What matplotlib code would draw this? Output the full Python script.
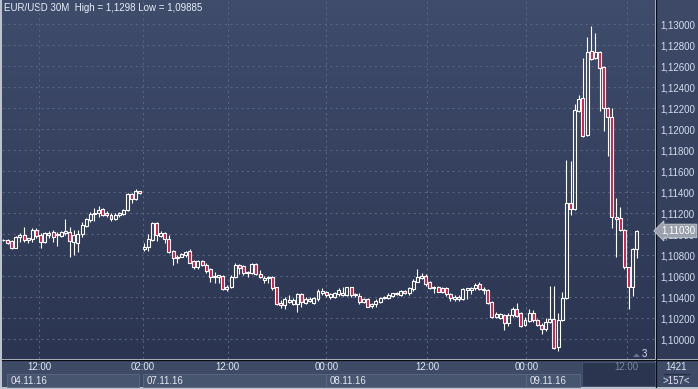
import matplotlib
matplotlib.use('Agg')
import matplotlib.pyplot as plt
import numpy as np
from matplotlib.colors import LinearSegmentedColormap
from matplotlib.transforms import blended_transform_factory, offset_copy
from matplotlib.patches import Rectangle, Polygon

plt.rcParams['font.family'] = ['Liberation Sans', 'DejaVu Sans']

# ---------------- data (EUR/USD, 30 min candles) ----------------
opens = [1.10945, 1.10943, 1.10933, 1.10869, 1.10968, 1.10990, 1.10943, 1.10949, 1.11038, 1.10990,
         1.10927, 1.10990, 1.11022, 1.10990, 1.10981, 1.11006, 1.11022, 1.10927, 1.10917, 1.10997,
         1.11079, 1.11133, 1.11187, 1.11197, 1.11235, 1.11203, 1.11184, 1.11143, 1.11184, 1.11190,
         1.11228, 1.11381, 1.11330, 1.11409, 1.10857, 1.10873, 1.10943, 1.11102, 1.10981, 1.11007,
         1.10950, 1.10842, 1.10769, 1.10785, 1.10800, 1.10842, 1.10746, 1.10683, 1.10746, 1.10705,
         1.10664, 1.10588, 1.10594, 1.10600, 1.10473, 1.10492, 1.10588, 1.10705, 1.10696, 1.10626,
         1.10626, 1.10715, 1.10619, 1.10562, 1.10578, 1.10594, 1.10492, 1.10346, 1.10324, 1.10356,
         1.10334, 1.10334, 1.10426, 1.10346, 1.10365, 1.10346, 1.10378, 1.10442, 1.10448, 1.10397,
         1.10403, 1.10426, 1.10419, 1.10419, 1.10492, 1.10416, 1.10410, 1.10356, 1.10378, 1.10315,
         1.10330, 1.10356, 1.10388, 1.10394, 1.10413, 1.10426, 1.10419, 1.10457, 1.10435, 1.10473,
         1.10546, 1.10578, 1.10603, 1.10546, 1.10483, 1.10498, 1.10489, 1.10489, 1.10425, 1.10378,
         1.10381, 1.10381, 1.10467, 1.10467, 1.10483, 1.10521, 1.10467, 1.10467, 1.10356, 1.10213,
         1.10203, 1.10229, 1.10149, 1.10229, 1.10286, 1.10244, 1.10133, 1.10171, 1.10250, 1.10181,
         1.10133, 1.10092, 1.10165, 1.10187, 1.09920, 1.10181, 1.10387, 1.11298, 1.11235, 1.12174,
         1.12292, 1.11943, 1.12746, 1.12673, 1.12736, 1.12587, 1.12197, 1.12111, 1.11158, 1.11149,
         1.11038, 1.10682, 1.10498, 1.10854]
highs = [1.10952, 1.10952, 1.10943, 1.10981, 1.11006, 1.11063, 1.10959, 1.11054, 1.11054, 1.11006,
         1.11022, 1.11032, 1.11038, 1.11022, 1.11032, 1.11139, 1.11070, 1.11038, 1.11038, 1.11117,
         1.11149, 1.11212, 1.11244, 1.11266, 1.11244, 1.11222, 1.11203, 1.11197, 1.11206, 1.11235,
         1.11387, 1.11387, 1.11431, 1.11412, 1.10911, 1.11000, 1.11118, 1.11118, 1.11032, 1.11023,
         1.10991, 1.10848, 1.10800, 1.10816, 1.10842, 1.10854, 1.10753, 1.10753, 1.10753, 1.10721,
         1.10673, 1.10642, 1.10610, 1.10610, 1.10515, 1.10607, 1.10721, 1.10715, 1.10705, 1.10651,
         1.10721, 1.10721, 1.10657, 1.10600, 1.10603, 1.10603, 1.10499, 1.10372, 1.10403, 1.10419,
         1.10388, 1.10435, 1.10435, 1.10403, 1.10403, 1.10403, 1.10473, 1.10483, 1.10461, 1.10435,
         1.10451, 1.10483, 1.10499, 1.10499, 1.10499, 1.10442, 1.10435, 1.10388, 1.10388, 1.10346,
         1.10378, 1.10403, 1.10413, 1.10435, 1.10442, 1.10451, 1.10467, 1.10467, 1.10499, 1.10569,
         1.10667, 1.10625, 1.10616, 1.10552, 1.10505, 1.10508, 1.10498, 1.10495, 1.10435, 1.10419,
         1.10419, 1.10483, 1.10489, 1.10498, 1.10530, 1.10540, 1.10498, 1.10476, 1.10362, 1.10260,
         1.10244, 1.10235, 1.10244, 1.10308, 1.10340, 1.10254, 1.10206, 1.10282, 1.10276, 1.10190,
         1.10149, 1.10196, 1.10504, 1.10504, 1.10244, 1.10451, 1.11705, 1.11698, 1.12238, 1.12324,
         1.12673, 1.12879, 1.12980, 1.12911, 1.12746, 1.12600, 1.12206, 1.12197, 1.11339, 1.11254,
         1.11044, 1.10689, 1.10863, 1.11038]
lows = [1.10938, 1.10904, 1.10860, 1.10863, 1.10927, 1.10927, 1.10911, 1.10927, 1.10959, 1.10863,
        1.10911, 1.10959, 1.10927, 1.10889, 1.10968, 1.10990, 1.10784, 1.10800, 1.10831, 1.10974,
        1.11063, 1.11117, 1.11124, 1.11165, 1.11171, 1.11165, 1.11124, 1.11133, 1.11165, 1.11181,
        1.11222, 1.11298, 1.11324, 1.11384, 1.10842, 1.10842, 1.10937, 1.10937, 1.10975, 1.10911,
        1.10823, 1.10705, 1.10727, 1.10778, 1.10785, 1.10721, 1.10667, 1.10667, 1.10696, 1.10632,
        1.10546, 1.10537, 1.10530, 1.10467, 1.10461, 1.10483, 1.10578, 1.10619, 1.10610, 1.10588,
        1.10619, 1.10610, 1.10578, 1.10537, 1.10537, 1.10467, 1.10324, 1.10292, 1.10283, 1.10340,
        1.10324, 1.10261, 1.10308, 1.10334, 1.10356, 1.10334, 1.10365, 1.10419, 1.10403, 1.10378,
        1.10388, 1.10410, 1.10413, 1.10410, 1.10403, 1.10403, 1.10334, 1.10340, 1.10302, 1.10292,
        1.10302, 1.10346, 1.10378, 1.10384, 1.10403, 1.10416, 1.10410, 1.10426, 1.10419, 1.10461,
        1.10540, 1.10571, 1.10508, 1.10473, 1.10435, 1.10444, 1.10435, 1.10413, 1.10362, 1.10365,
        1.10362, 1.10371, 1.10378, 1.10425, 1.10470, 1.10463, 1.10425, 1.10330, 1.10197, 1.10197,
        1.10190, 1.10086, 1.10127, 1.10213, 1.10213, 1.10117, 1.10123, 1.10165, 1.10165, 1.10123,
        1.10047, 1.10079, 1.10155, 1.09901, 1.09885, 1.10171, 1.10380, 1.11181, 1.11228, 1.12165,
        1.11920, 1.11933, 1.12657, 1.12663, 1.12174, 1.11984, 1.11743, 1.11054, 1.10784, 1.11031,
        1.10663, 1.10282, 1.10409, 1.10768]
closes = [1.10943, 1.10917, 1.10869, 1.10968, 1.10990, 1.10943, 1.10959, 1.11038, 1.10981, 1.10927,
          1.11006, 1.11013, 1.10974, 1.11000, 1.11022, 1.11032, 1.10933, 1.10990, 1.10997, 1.11085,
          1.11143, 1.11190, 1.11203, 1.11228, 1.11184, 1.11178, 1.11143, 1.11184, 1.11197, 1.11228,
          1.11381, 1.11330, 1.11412, 1.11387, 1.10880, 1.10950, 1.11102, 1.10988, 1.11007, 1.10950,
          1.10832, 1.10769, 1.10785, 1.10807, 1.10832, 1.10727, 1.10683, 1.10746, 1.10705, 1.10648,
          1.10588, 1.10604, 1.10607, 1.10473, 1.10499, 1.10594, 1.10705, 1.10680, 1.10626, 1.10642,
          1.10715, 1.10619, 1.10594, 1.10584, 1.10594, 1.10483, 1.10330, 1.10324, 1.10378, 1.10372,
          1.10372, 1.10426, 1.10356, 1.10378, 1.10378, 1.10388, 1.10457, 1.10461, 1.10416, 1.10426,
          1.10442, 1.10467, 1.10435, 1.10492, 1.10419, 1.10429, 1.10350, 1.10378, 1.10308, 1.10330,
          1.10362, 1.10388, 1.10403, 1.10419, 1.10435, 1.10442, 1.10457, 1.10435, 1.10489, 1.10556,
          1.10594, 1.10603, 1.10521, 1.10483, 1.10498, 1.10451, 1.10451, 1.10425, 1.10387, 1.10397,
          1.10403, 1.10476, 1.10483, 1.10489, 1.10514, 1.10476, 1.10476, 1.10340, 1.10213, 1.10235,
          1.10235, 1.10149, 1.10229, 1.10286, 1.10222, 1.10127, 1.10181, 1.10250, 1.10181, 1.10133,
          1.10092, 1.10158, 1.10187, 1.09911, 1.10181, 1.10387, 1.11292, 1.11235, 1.12181, 1.12282,
          1.11933, 1.12736, 1.12663, 1.12736, 1.12578, 1.12197, 1.12111, 1.11158, 1.11139, 1.11038,
          1.10682, 1.10498, 1.10854, 1.11030]

time_tick_pos = [8.6, 33.7, 54.2, 78.0, 102.3, 126.3, 150.6]
time_tick_labels = ['12:00', '02:00', '12:00', '00:00', '12:00', '00:00', '12:00']
day_labels = ['04.11.16', '07.11.16', '08.11.16', '09.11.16']
day_starts = [0.9, 33.7, 78.0, 126.3]
day_ends = [32.8, 78.0, 126.3, 139.4]
price_ticks = [1.100, 1.102, 1.104, 1.106, 1.108, 1.110, 1.112, 1.114, 1.116,
               1.118, 1.120, 1.122, 1.124, 1.126, 1.128, 1.130]
title_text = 'EUR/USD 30M  High = 1,1298 Low = 1,09885'
last_price_label = '1,11030'
bars_total = '1421'
bars_visible = '>157<'

# ---------------- figure ----------------
W, H = 698, 389
fig = plt.figure(figsize=(W / 100, H / 100), dpi=100)
fig.patch.set_facecolor('#bcc3ce')

bg = fig.add_axes([0, 0, 1, 1])
bg.set_xlim(0, W)
bg.set_ylim(H, 0)
bg.axis('off')

grad = np.linspace(0, 1, 256).reshape(-1, 1)
cmap = LinearSegmentedColormap.from_list('bgc', ['#3f4c6b', '#2b3551'])
bg.imshow(grad, cmap=cmap, extent=[2, 655, 359, 0], aspect='auto', zorder=0)
cmap2 = LinearSegmentedColormap.from_list('bgc2', ['#3e4a68', '#2f3955'])
bg.imshow(grad, cmap=cmap2, extent=[656, W, 359, 0], aspect='auto', zorder=0)
bg.add_patch(Rectangle((2, 360), 653, 26.5, facecolor='#3e4a66', edgecolor='none', zorder=1))
bg.add_patch(Rectangle((656, 360), 42, 26.5, facecolor='#3e4a66', edgecolor='none', zorder=1))
bg.plot([655.5, 655.5], [0, 386.5], color='#0a0d14', lw=0.9, zorder=3)
bg.plot([2, W], [359.5, 359.5], color='#0a0d14', lw=0.9, zorder=3)

# bottom-right counters
bg.text(676, 367.5, bars_total, color='#dfe6f1', fontsize=7, ha='center', va='center', zorder=4)
bg.plot([664, 689], [374, 374], color='#262e42', lw=0.9, zorder=4)
bg.text(676, 381, bars_visible, color='#dfe6f1', fontsize=7, ha='center', va='center', zorder=4)

# dark "future" box in bottom band
bg.add_patch(Rectangle((582, 361.5), 73, 24.5, facecolor='#2b354f', edgecolor='#4a5670', lw=0.6, zorder=2))

# small "3" marker
bg.add_patch(Polygon([[633, 357], [636.5, 353.5], [640, 357]], closed=True,
                     facecolor='#6b7790', edgecolor='none', zorder=4))
bg.text(642, 354, '3', color='#d4e0f2', fontsize=7, ha='left', va='center', zorder=4)

# title
bg.text(4, 8, title_text, color='#e8eef8', fontsize=7, ha='left', va='center', zorder=4)

# ---------------- main candle axes ----------------
ax = fig.add_axes([2 / W, 30 / H, 653 / W, 359 / H])
ax.patch.set_alpha(0)
for s in ax.spines.values():
    s.set_visible(False)

n = len(opens)
x = np.arange(n)
o = np.array(opens)
c = np.array(closes)
hi = np.array(highs)
lo = np.array(lows)
top = np.maximum(o, c)
bot = np.minimum(o, c)
up = c >= o

ax.vlines(x, top, hi, color='white', lw=0.8, zorder=3)
ax.vlines(x, lo, bot, color='white', lw=0.8, zorder=3)
heights = np.maximum(top - bot, 0.00003)
faces = ['none' if u else '#e0123f' for u in up]
ax.bar(x, heights, bottom=bot, width=0.72, color=faces, edgecolor='white', linewidth=0.8, zorder=4)

ax.set_xlim(-0.33, 157.4)
ax.set_ylim(1.09810, 1.13229)

ax.set_yticks(price_ticks)
ax.set_yticklabels([f'{v:.5f}'.replace('.', ',') for v in price_ticks])
ax.yaxis.tick_right()
ax.tick_params(axis='y', length=0, pad=3.5, labelsize=7, labelcolor='#d3def0')

ax.set_xticks(time_tick_pos)
ax.set_xticklabels(time_tick_labels)
ax.tick_params(axis='x', length=0, pad=2.5, labelsize=7, labelcolor='#e2e9f4')
ax.get_xticklabels()[-1].set_color('#7c889c')

ax.set_axisbelow(True)
ax.grid(True, color='#56637f', linestyle=(0, (2, 3)), linewidth=0.8)

# date boxes in bottom band
tr = blended_transform_factory(ax.transData, bg.transData)
for lab, s0, s1 in zip(day_labels, day_starts, day_ends):
    ax.add_patch(Rectangle((s0, 373.5), s1 - s0, 13, transform=tr, facecolor='#48556f',
                           edgecolor='#5c6984', lw=0.6, clip_on=False, zorder=2))
    ax.text(s0 + 0.8, 380.5, lab, transform=tr, color='#e2e9f4', fontsize=7,
            ha='left', va='center', clip_on=False, zorder=5)

# current price tag
trp = blended_transform_factory(ax.transAxes, ax.transData)
trp = offset_copy(trp, fig=fig, x=6, y=0, units='dots')
ax.text(1.0, closes[-1], last_price_label, transform=trp, color='#ffffff', fontsize=7,
        ha='left', va='center', clip_on=False, zorder=6,
        bbox=dict(boxstyle='larrow,pad=0.18', facecolor='#9aa1ac', edgecolor='#c9ced6', lw=0.6))

fig.savefig('out.png', dpi=100, facecolor=fig.get_facecolor())
